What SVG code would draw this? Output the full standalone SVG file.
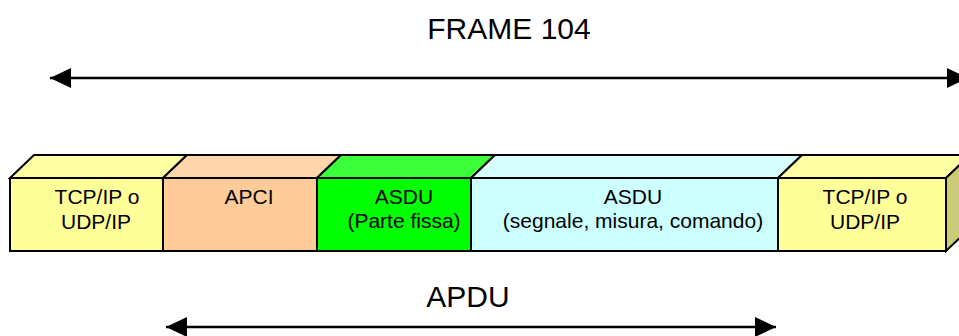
<svg xmlns="http://www.w3.org/2000/svg" width="959" height="336" viewBox="0 0 959 336">
  <defs>
    <marker id="head" markerUnits="userSpaceOnUse" markerWidth="22" markerHeight="22" viewBox="0 0 22 22" refX="21" refY="11" orient="auto-start-reverse">
      <path d="M0,1 L21,11 L0,21 Z" fill="#000"/>
    </marker>
    <style>
      .lbl { font-family: "Liberation Sans", Arial, sans-serif; fill: #000; text-anchor: middle; }
      .title { font-size: 30px; }
      .cell { font-size: 21px; }
      .edge { stroke: #000; stroke-width: 2.5; fill: none; }
      .face { stroke: #000; stroke-width: 2; stroke-linejoin: miter; }
    </style>
  </defs>

  <rect width="959" height="336" fill="#fff"/>

  <text class="lbl title" x="509" y="39">FRAME 104</text>
  <text class="lbl title" x="468" y="307">APDU</text>

  <g id="connectors">
    <line class="edge" x1="50" y1="78" x2="968" y2="78" marker-start="url(#head)" marker-end="url(#head)"/>
    <line class="edge" x1="166" y1="327" x2="776" y2="327" marker-start="url(#head)" marker-end="url(#head)"/>
  </g>

  <g id="tcp-left">
    <polygon class="face" points="10,178 34,155 187,155 163,178" fill="#FFFFA3"/>
    <rect class="face" x="10" y="178" width="153" height="73" fill="#FFFF99"/>
    <text class="lbl cell" x="97" y="204">TCP/IP o</text>
    <text class="lbl cell" x="96" y="229">UDP/IP</text>
  </g>

  <g id="apci">
    <polygon class="face" points="163,178 187,155 341,155 317,178" fill="#FFD6AC"/>
    <rect class="face" x="163" y="178" width="154" height="73" fill="#FFCC99"/>
    <text class="lbl cell" x="249" y="204">APCI</text>
  </g>

  <g id="asdu-fixed">
    <polygon class="face" points="317,178 341,155 495,155 471,178" fill="#3CFF3C"/>
    <rect class="face" x="317" y="178" width="154" height="73" fill="#00FF00"/>
    <text class="lbl cell" x="404" y="204">ASDU</text>
    <text class="lbl cell" x="404" y="228">(Parte fissa)</text>
  </g>

  <g id="asdu-data">
    <polygon class="face" points="471,178 495,155 802,155 778,178" fill="#D8FFFF"/>
    <rect class="face" x="471" y="178" width="307" height="73" fill="#CCFFFF"/>
    <text class="lbl cell" x="633" y="204">ASDU</text>
    <text class="lbl cell" x="633" y="228">(segnale, misura, comando)</text>
  </g>

  <g id="tcp-right">
    <polygon class="face" points="778,178 802,155 970,155 946,178" fill="#FFFFA3"/>
    <polygon class="face" points="946,178 970,155 970,228 946,251" fill="#CCCC77"/>
    <rect class="face" x="778" y="178" width="168" height="73" fill="#FFFF99"/>
    <text class="lbl cell" x="865" y="204">TCP/IP o</text>
    <text class="lbl cell" x="865" y="229">UDP/IP</text>
  </g>
</svg>
